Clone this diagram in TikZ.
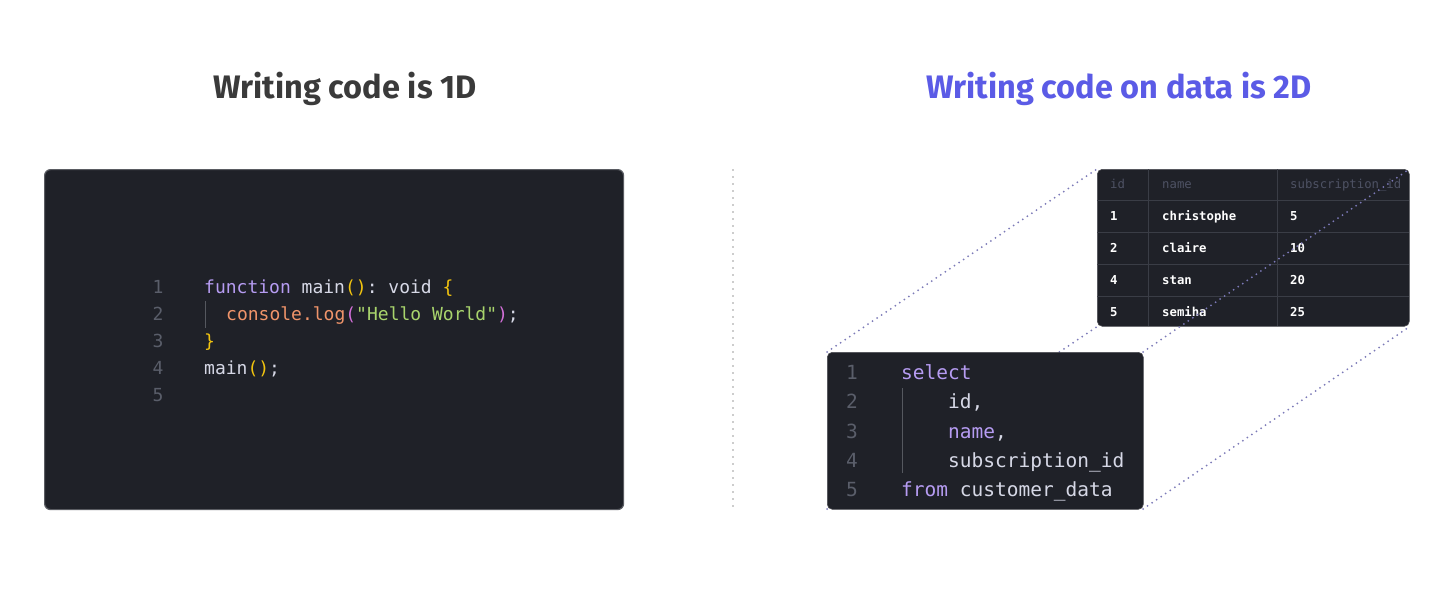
\documentclass[tikz,border=0pt]{standalone}
\usepackage{fontspec}
\setmonofont{DejaVu Sans Mono}
\newfontfamily\titlefont{Fira Sans}
\definecolor{panel}{HTML}{1F2128}
\definecolor{panelborder}{HTML}{5A5C62}
\definecolor{lnum}{HTML}{5A5E6A}
\definecolor{ckwc}{HTML}{B69CF2}
\definecolor{cplc}{HTML}{D6D8E6}
\definecolor{cylc}{HTML}{F2C40F}
\definecolor{corc}{HTML}{F0946A}
\definecolor{cpkc}{HTML}{D26FD8}
\definecolor{cgrc}{HTML}{A8D46C}
\definecolor{guide}{HTML}{55585F}
\definecolor{grid}{HTML}{3A3D46}
\definecolor{thead}{HTML}{4E5264}
\definecolor{dotc}{HTML}{7C7AB8}
\definecolor{divc}{HTML}{9A9A9A}
\definecolor{titleL}{HTML}{3A3A3A}
\definecolor{titleR}{HTML}{5B5BE6}
\newcommand\ckw[1]{\textcolor{ckwc}{#1}}
\newcommand\cpl[1]{\textcolor{cplc}{#1}}
\newcommand\cyl[1]{\textcolor{cylc}{#1}}
\newcommand\cor[1]{\textcolor{corc}{#1}}
\newcommand\cpk[1]{\textcolor{cpkc}{#1}}
\newcommand\cgr[1]{\textcolor{cgrc}{#1}}
\begin{document}
\begin{tikzpicture}[x=1pt,y=-1pt,
  panelbox/.style={draw=panelborder,line width=1.2pt,fill=panel,rounded corners=6pt,inner sep=0pt,anchor=north west},
  darkbox/.style={fill=panel,draw=panel!80!white,line width=0.6pt,rounded corners=5pt,inner sep=0pt,anchor=north west},
  title/.style={font=\titlefont\bfseries\fontsize{32.5}{38}\selectfont,anchor=base},
  lnL/.style={font=\ttfamily\fontsize{18}{20}\selectfont,text=lnum,anchor=base,inner sep=0pt},
  codeL/.style={font=\ttfamily\fontsize{18}{20}\selectfont,text=cplc,anchor=base west,inner sep=0pt},
  lnR/.style={font=\ttfamily\fontsize{19.5}{22}\selectfont,text=lnum,anchor=base,inner sep=0pt},
  codeR/.style={font=\ttfamily\fontsize{19.5}{22}\selectfont,text=cplc,anchor=base west,inner sep=0pt},
  th/.style={font=\ttfamily\fontsize{12.3}{14}\selectfont,text=thead,anchor=base west,inner sep=0pt},
  td/.style={font=\ttfamily\bfseries\fontsize{12.3}{14}\selectfont,text=white,anchor=base west,inner sep=0pt},
  gridline/.style={draw=grid,line width=0.8pt},
  guideline/.style={draw=guide,line width=1pt},
  persp/.style={draw=dotc,line width=2pt,line cap=round,dash pattern=on 0pt off 5.5pt},
  divider/.style={draw=divc,line width=1.8pt,line cap=round,dash pattern=on 0pt off 7pt}]
\useasboundingbox[fill=white] (0,0) rectangle (1456,590);

% titles
\node[title,text=titleL] (t1) at (345,98) {Writing code is 1D};
\node[title,text=titleR] (t2) at (1119,98) {Writing code on data is 2D};

% divider
\coordinate (dtop) at (733,170);
\coordinate (dbot) at (733,508);
\draw[divider] (dtop) -- (dbot);

% left panel
\node[panelbox,minimum width=579pt,minimum height=340pt] (lp) at (44,169) {};
\foreach \i/\y in {1/293,2/320,3/347,4/374,5/401}
  \node[lnL] (ln\i) at (158,\y) {\i};
\node[codeL] (c1) at (204,293) {\ckw{function} main\cyl{()}: void \cyl{\{}};
\node[codeL] (c2) at (226,320) {\cor{console.log}\cpk{(}\cgr{"Hello World"}\cpk{)};};
\node[codeL] (c3) at (204,347) {\cyl{\}}};
\node[codeL] (c4) at (204,374) {main\cyl{()};};
\coordinate (g1a) at (205,301);
\coordinate (g1b) at (205,328);
\draw[guideline] (g1a) -- (g1b);

% table
\node[darkbox,minimum width=312pt,minimum height=157pt] (tb) at (1097,169) {};
\coordinate (v1a) at (1148,169); \coordinate (v1b) at (1148,326);
\coordinate (v2a) at (1277,169); \coordinate (v2b) at (1277,326);
\draw[gridline] (v1a) -- (v1b);
\draw[gridline] (v2a) -- (v2b);
\foreach \y in {200,232,264,296}{
  \coordinate (ha) at (1097,\y); \coordinate (hb) at (1409,\y);
  \draw[gridline] (ha) -- (hb);
}
\node[th] (h1) at (1110,188.5) {id};
\node[th] (h2) at (1162,188.5) {name};
\node[th] (h3) at (1290,188.5) {subscription\_id};
\foreach \y/\a/\b/\c in {220.5/1/christophe/5,252.5/2/claire/10,284.5/4/stan/20,316.5/5/semiha/25}{
  \node[td] at (1110,\y) {\a};
  \node[td] at (1162,\y) {\b};
  \node[td] at (1290,\y) {\c};
}

% code box corners (for the perspective lines)
\path (827,352) coordinate (cbnw) (1143,352) coordinate (cbne) (827,509) coordinate (cbsw) (1143,509) coordinate (cbse);

% perspective lines
\draw[persp] (cbnw) -- (tb.north west);
\draw[persp] (cbsw) -- (tb.south west);
\draw[persp] (cbne) -- (tb.north east);
\draw[persp] (cbse) -- (tb.south east);

% code box
\node[darkbox,minimum width=316pt,minimum height=157pt] (cb) at (827,352) {};
\foreach \i/\y in {1/379,2/408,3/438,4/467,5/496}
  \node[lnR] (rn\i) at (852,\y) {\i};
\node[codeR] (r1) at (901,379) {\ckw{select}};
\node[codeR] (r2) at (948,408) {id,};
\node[codeR] (r3) at (948,438) {\ckw{name},};
\node[codeR] (r4) at (948,467) {subscription\_id};
\node[codeR] (r5) at (901,496) {\ckw{from} customer\_data};
\coordinate (g2a) at (902,388);
\coordinate (g2b) at (902,473);
\draw[guideline] (g2a) -- (g2b);
\end{tikzpicture}
\end{document}
